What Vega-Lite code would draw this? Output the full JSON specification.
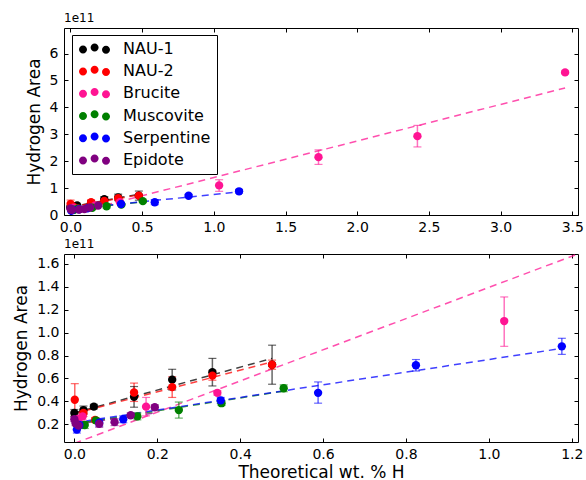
{
  "$schema": "https://vega.github.io/schema/vega-lite/v6.json",
  "padding": {"left": 12, "top": 11, "right": 2, "bottom": 2},
  "background": "white",
  "config": {
    "view": {"stroke": "black", "strokeWidth": 1},
    "font": "DejaVu Sans",
    "axis": {"labelFont": "DejaVu Sans", "titleFont": "DejaVu Sans", "labelColor": "black", "titleColor": "black", "tickColor": "black", "grid": false, "domain": false, "labelFontSize": 14, "titleFontSize": 17, "titleFontWeight": "normal"}
  },
  "datasets": {
    "pts": [
      {"s": "NAU-1", "x": 0.000, "y": 0.30, "lo": 0.27, "hi": 0.33},
      {"s": "NAU-1", "x": 0.022, "y": 0.325, "lo": 0.29, "hi": 0.36},
      {"s": "NAU-1", "x": 0.047, "y": 0.355, "lo": 0.335, "hi": 0.375},
      {"s": "NAU-1", "x": 0.144, "y": 0.44, "lo": 0.35, "hi": 0.53},
      {"s": "NAU-1", "x": 0.236, "y": 0.59, "lo": 0.50, "hi": 0.68},
      {"s": "NAU-1", "x": 0.333, "y": 0.655, "lo": 0.535, "hi": 0.775},
      {"s": "NAU-1", "x": 0.477, "y": 0.72, "lo": 0.55, "hi": 0.89},
      {"s": "NAU-2", "x": 0.001, "y": 0.415, "lo": 0.275, "hi": 0.555},
      {"s": "NAU-2", "x": 0.022, "y": 0.30, "lo": 0.27, "hi": 0.33},
      {"s": "NAU-2", "x": 0.050, "y": 0.24, "lo": 0.22, "hi": 0.26},
      {"s": "NAU-2", "x": 0.144, "y": 0.478, "lo": 0.40, "hi": 0.56},
      {"s": "NAU-2", "x": 0.236, "y": 0.525, "lo": 0.435, "hi": 0.615},
      {"s": "NAU-2", "x": 0.333, "y": 0.625, "lo": 0.585, "hi": 0.665},
      {"s": "NAU-2", "x": 0.477, "y": 0.72, "lo": 0.68, "hi": 0.76},
      {"s": "Brucite", "x": 0.010, "y": 0.25, "lo": 0.23, "hi": 0.27},
      {"s": "Brucite", "x": 0.020, "y": 0.27, "lo": 0.24, "hi": 0.30},
      {"s": "Brucite", "x": 0.173, "y": 0.355, "lo": 0.275, "hi": 0.435},
      {"s": "Brucite", "x": 0.345, "y": 0.475, "lo": 0.455, "hi": 0.495},
      {"s": "Brucite", "x": 1.037, "y": 1.10, "lo": 0.88, "hi": 1.31},
      {"s": "Brucite", "x": 1.730, "y": 2.15, "lo": 1.88, "hi": 2.42},
      {"s": "Brucite", "x": 2.420, "y": 2.93, "lo": 2.53, "hi": 3.33},
      {"s": "Brucite", "x": 3.450, "y": 5.30, "lo": 5.25, "hi": 5.35},
      {"s": "Muscovite", "x": 0.025, "y": 0.195, "lo": 0.165, "hi": 0.225},
      {"s": "Muscovite", "x": 0.052, "y": 0.235, "lo": 0.215, "hi": 0.255},
      {"s": "Muscovite", "x": 0.152, "y": 0.27, "lo": 0.24, "hi": 0.30},
      {"s": "Muscovite", "x": 0.252, "y": 0.325, "lo": 0.255, "hi": 0.395},
      {"s": "Muscovite", "x": 0.355, "y": 0.385, "lo": 0.365, "hi": 0.405},
      {"s": "Muscovite", "x": 0.505, "y": 0.515, "lo": 0.485, "hi": 0.545},
      {"s": "Serpentine", "x": 0.006, "y": 0.155, "lo": 0.125, "hi": 0.185},
      {"s": "Serpentine", "x": 0.012, "y": 0.195, "lo": 0.165, "hi": 0.225},
      {"s": "Serpentine", "x": 0.060, "y": 0.215, "lo": 0.185, "hi": 0.245},
      {"s": "Serpentine", "x": 0.118, "y": 0.245, "lo": 0.215, "hi": 0.275},
      {"s": "Serpentine", "x": 0.353, "y": 0.41, "lo": 0.385, "hi": 0.435},
      {"s": "Serpentine", "x": 0.588, "y": 0.475, "lo": 0.385, "hi": 0.57},
      {"s": "Serpentine", "x": 0.824, "y": 0.715, "lo": 0.665, "hi": 0.765},
      {"s": "Serpentine", "x": 1.176, "y": 0.88, "lo": 0.81, "hi": 0.95},
      {"s": "Epidote", "x": 0.000, "y": 0.245, "lo": 0.225, "hi": 0.265},
      {"s": "Epidote", "x": 0.003, "y": 0.21, "lo": 0.19, "hi": 0.23},
      {"s": "Epidote", "x": 0.010, "y": 0.19, "lo": 0.17, "hi": 0.21},
      {"s": "Epidote", "x": 0.060, "y": 0.205, "lo": 0.175, "hi": 0.235},
      {"s": "Epidote", "x": 0.097, "y": 0.22, "lo": 0.19, "hi": 0.25},
      {"s": "Epidote", "x": 0.136, "y": 0.28, "lo": 0.26, "hi": 0.30},
      {"s": "Epidote", "x": 0.194, "y": 0.35, "lo": 0.33, "hi": 0.37}
    ],
    "fits": [
      {"s": "Epidote", "x": 0.0, "y": 0.20},
      {"s": "Epidote", "x": 0.194, "y": 0.30},
      {"s": "NAU-1", "x": 0.0, "y": 0.30},
      {"s": "NAU-1", "x": 0.477, "y": 0.775},
      {"s": "NAU-2", "x": 0.0, "y": 0.295},
      {"s": "NAU-2", "x": 0.477, "y": 0.745},
      {"s": "Brucite", "x": 0.0, "y": 0.035},
      {"s": "Brucite", "x": 3.45, "y": 4.72},
      {"s": "Muscovite", "x": 0.0, "y": 0.205},
      {"s": "Muscovite", "x": 0.505, "y": 0.49},
      {"s": "Serpentine", "x": 0.0, "y": 0.215},
      {"s": "Serpentine", "x": 1.176, "y": 0.862}
    ]
  },
  "spacing": 39,
  "bounds": "flush",
  "resolve": {"scale": {"x": "independent", "y": "independent", "color": "shared"}, "legend": {"color": "independent"}},
  "vconcat": [
    {
      "width": 514,
      "height": 187,
      "title": {"text": "1e11", "anchor": "start", "frame": "group", "offset": 3, "fontSize": 12, "fontWeight": "normal", "font": "DejaVu Sans", "color": "black"},
      "resolve": {"legend": {"color": "independent"}},
      "layer": [
        {
          "data": {"name": "fits"},
          "mark": {"type": "line", "strokeDash": [7, 5], "strokeWidth": 1.5, "opacity": 0.75, "clip": true},
          "encoding": {
            "x": {"field": "x", "type": "quantitative", "scale": {"domain": [-0.045, 3.54], "nice": false, "zero": false},
                  "axis": {"orient": "top", "values": [0, 0.5, 1, 1.5, 2, 2.5, 3, 3.5], "labels": false, "title": null, "tickSize": -4}},
            "y": {"field": "y", "type": "quantitative", "scale": {"domain": [0, 6.95], "nice": false, "zero": false},
                  "axis": {"orient": "right", "values": [0, 1, 2, 3, 4, 5, 6], "labels": false, "title": null, "tickSize": -4}},
            "color": {"field": "s", "type": "nominal", "legend": null,
                      "scale": {"domain": ["NAU-1", "NAU-2", "Brucite", "Muscovite", "Serpentine", "Epidote"], "range": ["#000000", "#ff0000", "#ff1493", "#008000", "#0000ff", "#800080"]}}
          }
        },
        {
          "data": {"name": "pts"},
          "mark": {"type": "rule", "opacity": 0.6, "strokeWidth": 1.5, "clip": true},
          "encoding": {
            "x": {"field": "x", "type": "quantitative", "axis": null},
            "y": {"field": "lo", "type": "quantitative", "axis": null},
            "y2": {"field": "hi"},
            "color": {"field": "s", "type": "nominal", "legend": null}
          }
        },
        {
          "data": {"name": "pts"},
          "mark": {"type": "tick", "orient": "horizontal", "size": 8, "thickness": 1.2, "opacity": 0.6, "clip": true},
          "encoding": {
            "x": {"field": "x", "type": "quantitative", "axis": null},
            "y": {"field": "lo", "type": "quantitative", "axis": null},
            "color": {"field": "s", "type": "nominal", "legend": null}
          }
        },
        {
          "data": {"name": "pts"},
          "mark": {"type": "tick", "orient": "horizontal", "size": 8, "thickness": 1.2, "opacity": 0.6, "clip": true},
          "encoding": {
            "x": {"field": "x", "type": "quantitative", "axis": null},
            "y": {"field": "hi", "type": "quantitative", "axis": null},
            "color": {"field": "s", "type": "nominal", "legend": null}
          }
        },
        {
          "data": {"name": "pts"},
          "mark": {"type": "point", "filled": true, "size": 70, "opacity": 1, "clip": true},
          "encoding": {
            "x": {"field": "x", "type": "quantitative",
                  "axis": {"orient": "bottom", "values": [0, 0.5, 1, 1.5, 2, 2.5, 3, 3.5], "format": ".1f", "title": null, "tickSize": -4, "labelPadding": 9}},
            "y": {"field": "y", "type": "quantitative",
                  "axis": {"orient": "left", "values": [0, 1, 2, 3, 4, 5, 6], "format": "d", "title": "Hydrogen Area", "tickSize": -4, "labelPadding": 10, "titlePadding": 6}},
            "color": {"field": "s", "type": "nominal",
                      "legend": {"orient": "none", "legendX": 8, "legendY": 7, "title": null, "direction": "vertical",
                                 "symbolType": "M -1.75,0.1 A 1,1 0 1,0 0.25,0.1 A 1,1 0 1,0 -1.75,0.1 Z M 1.15,-0.35 A 1,1 0 1,0 3.15,-0.35 A 1,1 0 1,0 1.15,-0.35 Z M 4,0.2 A 1,1 0 1,0 6,0.2 A 1,1 0 1,0 4,0.2 Z",
                                 "symbolSize": 64, "symbolStrokeWidth": 0, "symbolOpacity": 1,
                                 "labelFontSize": 16, "labelFont": "DejaVu Sans", "labelColor": "black", "labelOffset": 29,
                                 "rowPadding": 6.2, "padding": 6, "strokeColor": "black", "fillColor": "white", "cornerRadius": 0}}
          }
        }
      ]
    },
    {
      "width": 514,
      "height": 188,
      "title": {"text": "1e11", "anchor": "start", "frame": "group", "offset": 3, "fontSize": 12, "fontWeight": "normal", "font": "DejaVu Sans", "color": "black"},
      "layer": [
        {
          "data": {"name": "fits"},
          "mark": {"type": "line", "strokeDash": [7, 5], "strokeWidth": 1.5, "opacity": 0.75, "clip": true},
          "encoding": {
            "x": {"field": "x", "type": "quantitative", "scale": {"domain": [-0.025, 1.215], "nice": false, "zero": false},
                  "axis": {"orient": "top", "values": [0, 0.2, 0.4, 0.6, 0.8, 1.0, 1.2], "labels": false, "title": null, "tickSize": -4}},
            "y": {"field": "y", "type": "quantitative", "scale": {"domain": [0.047, 1.684], "nice": false, "zero": false},
                  "axis": {"orient": "right", "values": [0.2, 0.4, 0.6, 0.8, 1.0, 1.2, 1.4, 1.6], "labels": false, "title": null, "tickSize": -4}},
            "color": {"field": "s", "type": "nominal", "legend": null}
          }
        },
        {
          "data": {"name": "pts"},
          "mark": {"type": "rule", "opacity": 0.6, "strokeWidth": 1.5, "clip": true},
          "encoding": {
            "x": {"field": "x", "type": "quantitative", "axis": null},
            "y": {"field": "lo", "type": "quantitative", "axis": null},
            "y2": {"field": "hi"},
            "color": {"field": "s", "type": "nominal", "legend": null}
          }
        },
        {
          "data": {"name": "pts"},
          "mark": {"type": "tick", "orient": "horizontal", "size": 8, "thickness": 1.2, "opacity": 0.6, "clip": true},
          "encoding": {
            "x": {"field": "x", "type": "quantitative", "axis": null},
            "y": {"field": "lo", "type": "quantitative", "axis": null},
            "color": {"field": "s", "type": "nominal", "legend": null}
          }
        },
        {
          "data": {"name": "pts"},
          "mark": {"type": "tick", "orient": "horizontal", "size": 8, "thickness": 1.2, "opacity": 0.6, "clip": true},
          "encoding": {
            "x": {"field": "x", "type": "quantitative", "axis": null},
            "y": {"field": "hi", "type": "quantitative", "axis": null},
            "color": {"field": "s", "type": "nominal", "legend": null}
          }
        },
        {
          "data": {"name": "pts"},
          "mark": {"type": "point", "filled": true, "size": 70, "opacity": 1, "clip": true},
          "encoding": {
            "x": {"field": "x", "type": "quantitative",
                  "axis": {"orient": "bottom", "values": [0, 0.2, 0.4, 0.6, 0.8, 1.0, 1.2], "format": ".1f", "title": "Theoretical wt. % H", "tickSize": -4, "labelPadding": 9, "titlePadding": 3}},
            "y": {"field": "y", "type": "quantitative",
                  "axis": {"orient": "left", "values": [0.2, 0.4, 0.6, 0.8, 1.0, 1.2, 1.4, 1.6], "format": ".1f", "title": "Hydrogen Area", "tickSize": -4, "labelPadding": 9, "titlePadding": 6}},
            "color": {"field": "s", "type": "nominal", "legend": null}
          }
        }
      ]
    }
  ]
}
